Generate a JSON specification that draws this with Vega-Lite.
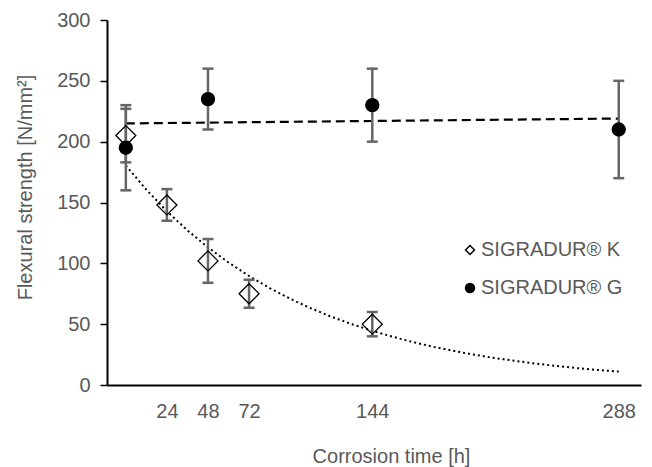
{
  "$schema": "https://vega.github.io/schema/vega-lite/v6.json",
  "autosize": {"type": "none"},
  "padding": {"left": 107, "top": 20, "right": 11, "bottom": 82},
  "width": 534,
  "height": 365,
  "background": "white",
  "config": {
    "view": {"stroke": null},
    "font": "Liberation Sans",
    "axis": {"labelFont": "Liberation Sans", "titleFont": "Liberation Sans", "grid": false}
  },
  "datasets": {
    "pts": [
      {"series": "SIGRADUR® K", "t": 0, "y": 205, "lo": 183, "hi": 227},
      {"series": "SIGRADUR® K", "t": 24, "y": 148, "lo": 135, "hi": 161},
      {"series": "SIGRADUR® K", "t": 48, "y": 102, "lo": 84, "hi": 120},
      {"series": "SIGRADUR® K", "t": 72, "y": 75, "lo": 63.5, "hi": 86.5},
      {"series": "SIGRADUR® K", "t": 144, "y": 50, "lo": 40, "hi": 60},
      {"series": "SIGRADUR® G", "t": 0, "y": 195, "lo": 160, "hi": 230},
      {"series": "SIGRADUR® G", "t": 48, "y": 235, "lo": 210, "hi": 260},
      {"series": "SIGRADUR® G", "t": 144, "y": 230, "lo": 200, "hi": 260},
      {"series": "SIGRADUR® G", "t": 288, "y": 210, "lo": 170, "hi": 250}
    ],
    "trendK": [
      {"t": 0, "y": 180.4},
      {"t": 12, "y": 160.5},
      {"t": 24, "y": 142.8},
      {"t": 36, "y": 127.1},
      {"t": 48, "y": 113.1},
      {"t": 60, "y": 100.7},
      {"t": 72, "y": 89.6},
      {"t": 84, "y": 79.7},
      {"t": 96, "y": 70.9},
      {"t": 108, "y": 63.1},
      {"t": 120, "y": 56.2},
      {"t": 132, "y": 50.0},
      {"t": 144, "y": 44.5},
      {"t": 156, "y": 39.6},
      {"t": 168, "y": 35.2},
      {"t": 180, "y": 31.3},
      {"t": 192, "y": 27.9},
      {"t": 204, "y": 24.8},
      {"t": 216, "y": 22.1},
      {"t": 228, "y": 19.7},
      {"t": 240, "y": 17.5},
      {"t": 252, "y": 15.6},
      {"t": 264, "y": 13.8},
      {"t": 276, "y": 12.3},
      {"t": 288, "y": 11.0}
    ],
    "trendG": [
      {"t": 0, "y": 215},
      {"t": 288, "y": 219}
    ]
  },
  "encoding": {
    "x": {
      "field": "t", "type": "quantitative",
      "scale": {"domain": [-11, 301], "nice": false, "zero": false},
      "axis": {
        "title": "Corrosion time [h]",
        "values": [24, 48, 72, 144, 288],
        "ticks": false,
        "domainColor": "black", "domainWidth": 2,
        "labelFontSize": 20, "labelColor": "#595959", "labelPadding": 16,
        "titleFontSize": 20, "titleFontWeight": "normal", "titleColor": "#595959",
        "titleBaseline": "alphabetic", "titleX": 284, "titleY": 77
      }
    }
  },
  "layer": [
    {
      "data": {"name": "trendK"},
      "mark": {"type": "line", "color": "black", "strokeWidth": 2, "strokeDash": [2, 3]},
      "encoding": {"y": {"field": "y", "type": "quantitative"}}
    },
    {
      "data": {"name": "trendG"},
      "mark": {"type": "line", "color": "black", "strokeWidth": 2.2, "strokeDash": [9, 5]},
      "encoding": {"y": {"field": "y", "type": "quantitative"}}
    },
    {
      "data": {"name": "pts"},
      "mark": {"type": "rule", "color": "#666666", "strokeWidth": 2.5},
      "encoding": {
        "y": {"field": "lo", "type": "quantitative"},
        "y2": {"field": "hi"}
      }
    },
    {
      "data": {"name": "pts"},
      "mark": {"type": "tick", "orient": "horizontal", "color": "#666666", "thickness": 2.5, "size": 11, "opacity": 1},
      "encoding": {"y": {"field": "lo", "type": "quantitative"}}
    },
    {
      "data": {"name": "pts"},
      "mark": {"type": "tick", "orient": "horizontal", "color": "#666666", "thickness": 2.5, "size": 11, "opacity": 1},
      "encoding": {"y": {"field": "hi", "type": "quantitative"}}
    },
    {
      "data": {"name": "pts"},
      "mark": {"type": "point", "filled": true, "stroke": "black", "strokeWidth": 1.3, "opacity": 1},
      "encoding": {
        "y": {
          "field": "y", "type": "quantitative",
          "scale": {"domain": [0, 300], "nice": false},
          "axis": {
            "title": "Flexural strength [N/mm²]",
            "values": [0, 50, 100, 150, 200, 250, 300],
            "domainColor": "black", "domainWidth": 2,
            "tickColor": "black", "tickWidth": 1.5, "tickSize": 7,
            "labelFontSize": 20, "labelColor": "#595959", "labelPadding": 10,
            "titleFontSize": 20, "titleFontWeight": "normal", "titleColor": "#595959",
            "titleBaseline": "alphabetic", "titleAngle": -90, "titleX": -76, "titleY": 167
          }
        },
        "shape": {
          "field": "series", "type": "nominal",
          "scale": {"domain": ["SIGRADUR® K", "SIGRADUR® G"], "range": ["diamond", "circle"]},
          "legend": {
            "title": null, "orient": "none", "legendX": 353, "legendY": 220,
            "labelFontSize": 20, "labelColor": "#595959", "labelFont": "Liberation Sans",
            "symbolSize": 80, "rowPadding": 18, "labelOffset": 1,
            "encode": {
              "symbols": {
                "update": {
                  "stroke": {"value": "black"},
                  "strokeWidth": {"value": 1.3},
                  "opacity": {"value": 1}
                }
              }
            }
          }
        },
        "fill": {
          "field": "series", "type": "nominal",
          "scale": {"domain": ["SIGRADUR® K", "SIGRADUR® G"], "range": ["transparent", "black"]}
        },
        "size": {
          "condition": {"test": "datum.series === 'SIGRADUR® K'", "value": 400},
          "value": 169
        }
      }
    }
  ]
}
